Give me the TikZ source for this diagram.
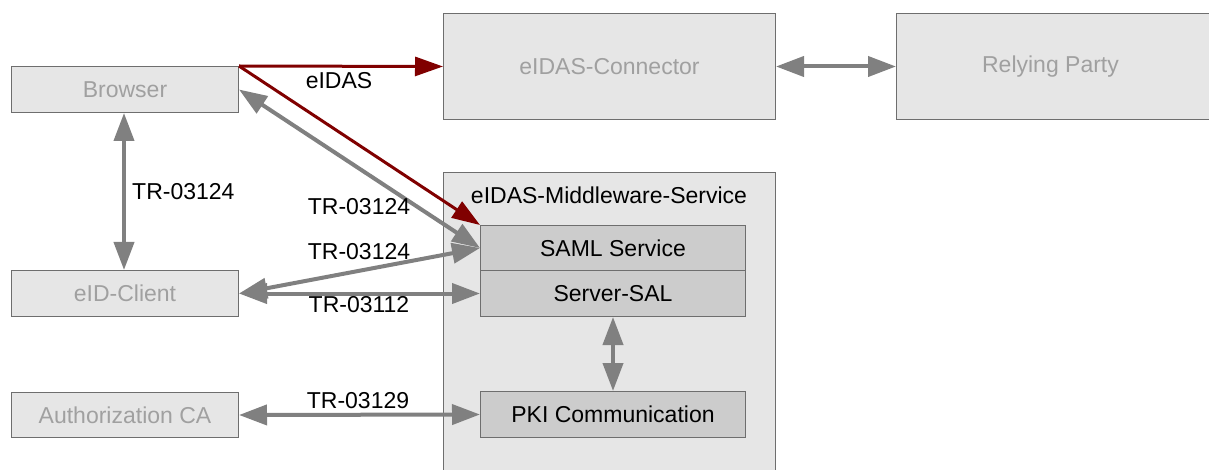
\documentclass[tikz,border=0pt]{standalone}
\usepackage{fontspec}
\setmainfont{Liberation Sans}
\usetikzlibrary{arrows.meta}
\definecolor{boxgray}{HTML}{E6E6E6}
\definecolor{innergray}{HTML}{CCCCCC}
\definecolor{linegray}{HTML}{808080}
\definecolor{bordergray}{HTML}{6E6E6E}
\definecolor{textgray}{HTML}{A0A0A0}
\definecolor{eidasred}{HTML}{800000}
\newcommand{\bw}{227pt}

\begin{document}
\begin{tikzpicture}[x=1pt, y=-1pt,
    every node/.style={font=\fontsize{23pt}{27pt}\selectfont},
    outer/.style={draw=bordergray, line width=1pt, fill=boxgray, text=textgray, rectangle, anchor=north west, inner sep=0pt},
    inner/.style={draw=bordergray, line width=1pt, fill=innergray, text=black, rectangle, anchor=north west, minimum width=265pt, inner sep=0pt},
    link/.style={draw=linegray, line width=4pt, {Triangle[length=28pt,width=20pt]}-{Triangle[length=28pt,width=20pt]}},
    eidas/.style={draw=eidasred, line width=3pt, -{Triangle[length=28pt,width=19pt]}},
    lab/.style={text=black, inner sep=0pt}]
    \useasboundingbox (0,0) rectangle (1209,470);
    \clip (0,0) rectangle (1209,470);

    % Left column
    \node[outer, minimum width=\bw, minimum height=46pt] (browser) at (11,66) {Browser};
    \node[outer, minimum width=\bw, minimum height=46pt] (eidclient) at (11,270) {eID-Client};
    \node[outer, minimum width=\bw, minimum height=45pt] (authca) at (11,392) {Authorization CA};

    % Top row
    \node[outer, minimum width=332pt, minimum height=106pt] (connector) at (443,13) {eIDAS-Connector};
    \node[outer, minimum width=320pt, minimum height=106pt] (relying) at (896,13) {\hspace*{-12pt}Relying Party};

    % Middleware
    \node[outer, minimum width=332pt, minimum height=320pt] (middleware) at (443,172) {};
    \node[lab] (mwlabel) at (609,195) {eIDAS-Middleware-Service};
    \node[inner, minimum height=45pt] (saml) at (480,225) {SAML Service};
    \node[inner, minimum height=46pt] (sal) at (480,270) {Server-SAL};
    \node[inner, minimum height=46pt] (pki) at (480,391) {PKI Communication};

    % Connections
    \draw[eidas] (browser.north east) -- (connector.west);
    \draw[eidas] (browser.north east) -- (saml.north west);
    \draw[link] (connector.east) -- (relying.west);
    \draw[link] (browser.south -| 124,0) -- (eidclient.north -| 124,0);
    \draw[link] (browser.east) -- (saml.west);
    \draw[link] (eidclient.east) -- (saml.west);
    \draw[link] (eidclient.east) -- (sal.west);
    \draw[link] (sal.south) -- (pki.north);
    \draw[link] (authca.east) -- (pki.west);

    % Labels
    \node[lab] (labeidas) at (339,81) {eIDAS};
    \node[lab, anchor=west] (labclient) at (132,192) {TR-03124};
    \node[lab] (labsamla) at (359,207) {TR-03124};
    \node[lab] (labsamlb) at (359,252) {TR-03124};
    \node[lab] (labsal) at (359,305) {TR-03112};
    \node[lab] (labpki) at (358,401) {TR-03129};

\end{tikzpicture}
\end{document}
